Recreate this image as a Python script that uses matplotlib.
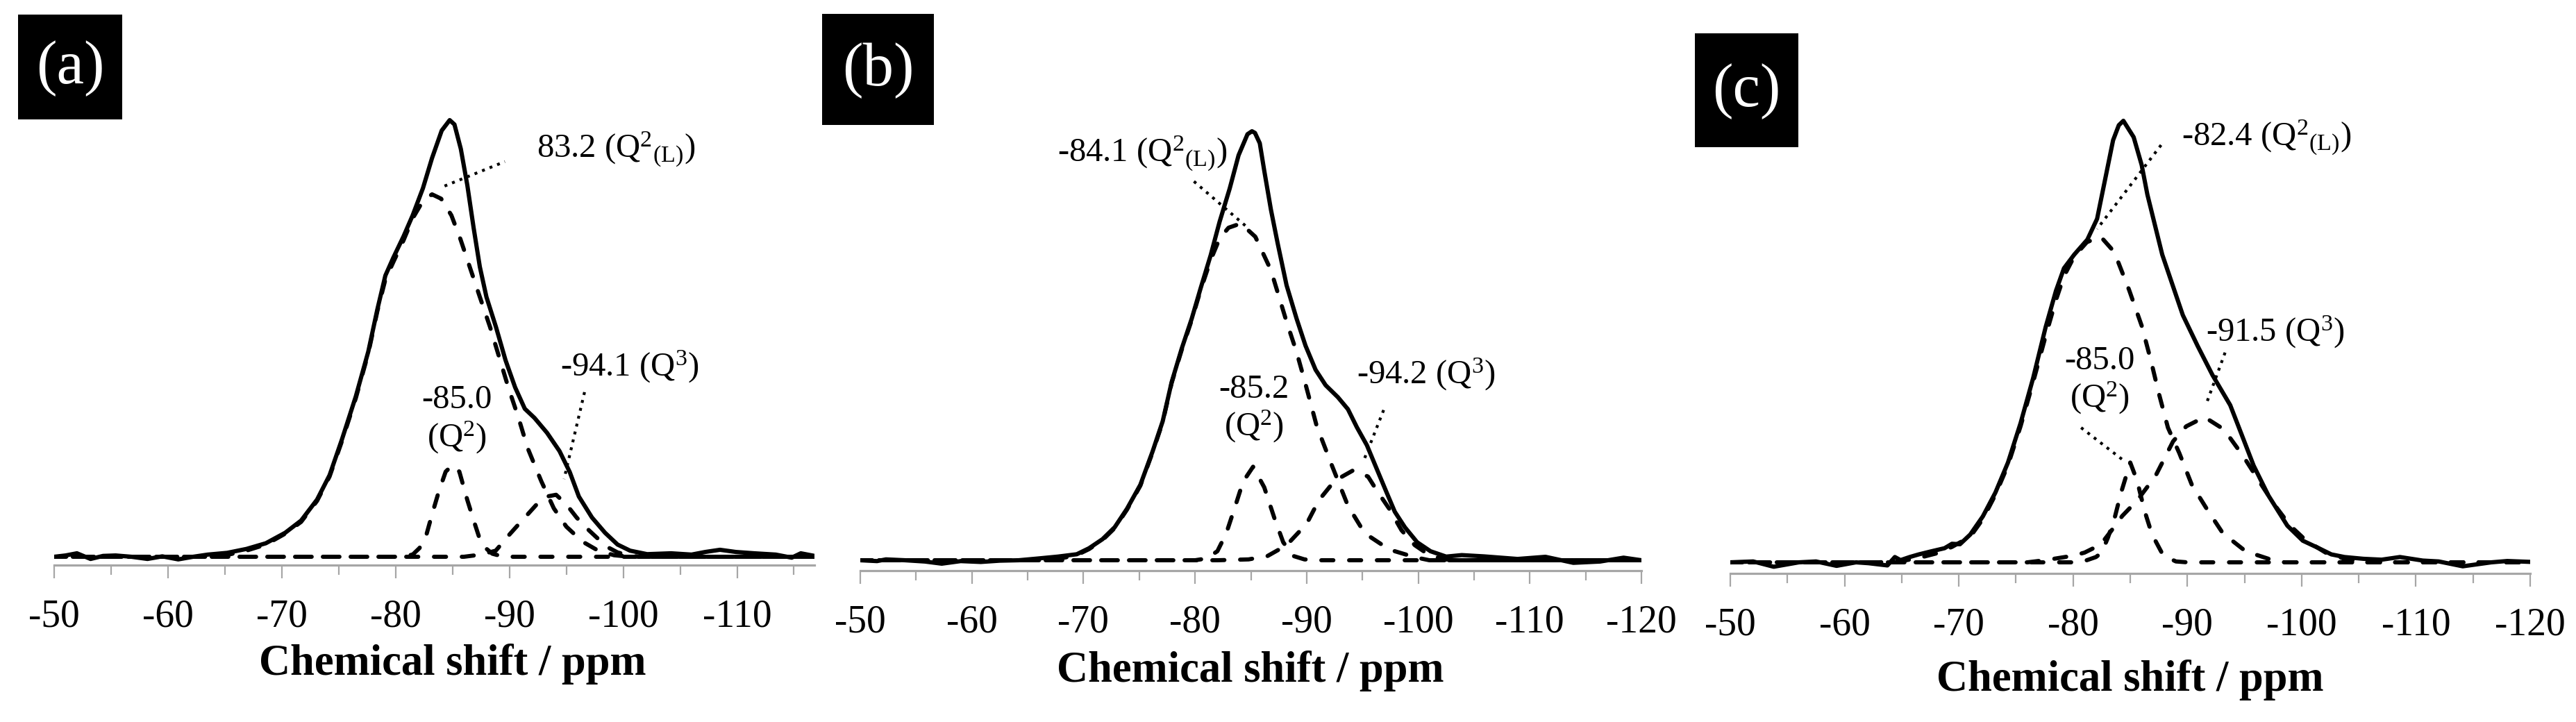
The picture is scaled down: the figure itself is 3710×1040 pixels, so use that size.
import matplotlib
matplotlib.use("Agg")
import matplotlib.pyplot as plt
from matplotlib.patches import Rectangle
from matplotlib.ticker import MultipleLocator

plt.rcParams['font.family'] = ['Liberation Serif', 'DejaVu Serif']
plt.rcParams['mathtext.fontset'] = 'custom'
plt.rcParams['mathtext.rm'] = 'Liberation Serif'
plt.rcParams['mathtext.it'] = 'Liberation Serif:italic'
plt.rcParams['mathtext.bf'] = 'Liberation Serif:bold'
plt.rcParams['axes.unicode_minus'] = False

# ---------------- data (ppm, intensity; main peak = 100) ----------------
# Panel (a)
a_exp_ppm = [-50.0, -51.0, -52.0, -53.2, -54.3, -55.4, -56.8, -58.2, -59.5, -60.9,
             -62.2, -63.5, -65.2, -66.9, -68.6, -70.3, -71.7, -73.1, -74.2, -75.3,
             -76.5, -77.6, -78.4, -79.1, -79.8, -80.7, -81.5, -82.4, -83.2, -84.05,
             -84.75, -85.17, -85.73, -86.3, -86.85, -87.4, -87.98, -88.82, -89.66, -90.5,
             -91.35, -92.2, -93.3, -94.4, -95.3, -96.1, -97.25, -98.4, -99.5, -100.6,
             -102.1, -104.2, -106.0, -107.2, -108.5, -109.9, -111.5, -113.4, -114.8, -115.6,
             -116.8]
a_exp_int = [0.0, 0.3, 0.8, -0.5, 0.2, 0.3, 0.0, -0.5, 0.1, -0.6,
             0.0, 0.5, 0.9, 1.8, 3.1, 5.5, 8.3, 13.1, 18.7, 27.0,
             36.7, 47.0, 56.7, 64.4, 68.5, 73.4, 78.2, 84.4, 91.3, 97.6,
             100.0, 99.0, 93.4, 85.1, 75.4, 66.4, 59.5, 52.6, 45.0, 38.8,
             33.9, 31.8, 28.4, 24.2, 19.4, 13.8, 9.0, 5.5, 2.8, 1.4,
             0.6, 0.8, 0.5, 1.1, 1.6, 1.1, 0.8, 0.5, -0.2, 0.8,
             0.2]
a_q2L_ppm = [-50.0, -64.0, -65.0, -67.0, -68.6, -70.3, -71.7, -73.1, -74.2, -75.3,
             -76.5, -77.6, -78.4, -79.1, -79.8, -80.7, -81.5, -82.4, -83.2, -84.0,
             -84.9, -85.7, -86.6, -87.4, -88.3, -89.1, -89.9, -90.8, -91.6, -92.8,
             -93.9, -95.0, -96.4, -97.8, -99.2, -100.6, -116.8]
a_q2L_int = [0.0, 0.0, 0.3, 1.5, 2.8, 5.3, 8.0, 12.8, 18.4, 26.6,
             36.3, 46.6, 56.3, 63.5, 67.5, 72.5, 77.5, 81.5, 83.0, 82.0,
             78.2, 72.7, 65.7, 59.5, 52.6, 45.7, 38.8, 31.8, 24.9, 17.3,
             11.1, 6.9, 3.5, 1.4, 0.35, 0.0, 0.0]
a_q2_ppm = [-50.0, -80.5, -81.5, -82.1, -82.7, -83.2, -83.8, -84.4, -85.0, -85.6,
            -86.3, -86.9, -87.4, -87.9, -88.5, -89.5, -116.8]
a_q2_int = [0.0, 0.0, 0.5, 2.0, 5.0, 9.7, 15.0, 19.5, 21.0, 19.5,
            13.0, 8.0, 4.0, 2.0, 0.7, 0.0, 0.0]
a_q3_ppm = [-50.0, -86.0, -87.5, -88.8, -89.9, -91.0, -91.6, -92.5, -93.3, -94.1,
            -95.0, -95.9, -96.6, -97.3, -98.0, -98.7, -99.5, -100.5, -101.5, -116.8]
a_q3_int = [0.0, 0.0, 0.5, 1.4, 4.8, 8.0, 9.7, 12.3, 13.8, 14.2,
            12.0, 9.0, 7.0, 5.3, 3.6, 2.1, 1.0, 0.3, 0.0, 0.0]

# Panel (b)
b_exp_ppm = [-50.0, -51.5, -52.3, -54.0, -55.8, -57.3, -59.0, -60.8, -62.5, -64.2,
             -65.9, -67.7, -69.4, -70.5, -71.7, -72.8, -73.9, -75.1, -76.2, -77.1,
             -77.9, -78.8, -79.7, -80.5, -81.4, -82.2, -83.1, -83.9, -84.7, -85.1,
             -85.37, -85.8, -86.2, -86.8, -87.4, -88.2, -89.1, -89.9, -90.8, -91.7,
             -92.8, -93.7, -94.5, -95.4, -96.2, -97.1, -97.9, -98.8, -99.9, -101.1,
             -102.5, -103.9, -105.9, -108.9, -111.4, -113.9, -116.3, -118.4, -120.0]
b_exp_int = [0.0, -0.2, 0.2, 0.0, -0.3, -0.8, -0.2, -0.4, -0.1, 0.0,
             0.4, 0.85, 1.4, 2.8, 4.9, 7.7, 12.0, 17.6, 25.4, 32.4,
             41.5, 49.3, 56.3, 63.4, 71.1, 78.9, 86.6, 94.4, 99.3, 100.0,
             99.6, 97.2, 90.8, 81.7, 73.9, 64.1, 56.3, 50.0, 44.4, 40.8,
             38.0, 35.2, 31.0, 26.8, 21.8, 16.2, 11.3, 7.7, 4.2, 2.1,
             0.85, 1.2, 0.9, 0.3, 0.8, -0.6, -0.3, 0.6, 0.0]
b_q2L_ppm = [-50.0, -66.0, -67.7, -69.4, -70.5, -71.7, -72.8, -73.9, -75.1, -76.2,
             -77.1, -77.9, -78.8, -79.7, -80.5, -81.4, -82.2, -83.0, -84.1, -85.4,
             -86.8, -88.2, -89.1, -89.8, -90.9, -92.2, -93.7, -95.2, -97.4, -99.7,
             -101.0, -120.0]
b_q2L_int = [0.0, 0.0, 0.3, 1.2, 2.6, 4.7, 7.5, 11.8, 17.4, 25.2,
             32.2, 41.3, 49.0, 56.0, 63.0, 70.0, 75.0, 77.5, 78.5, 75.4,
             67.6, 55.6, 48.5, 42.0, 31.3, 22.5, 12.7, 6.3, 2.5, 0.7,
             0.0, 0.0]
b_q2_ppm = [-50.0, -80.0, -81.0, -82.0, -82.8, -83.7, -84.3, -85.2, -86.2, -87.1,
            -87.9, -88.8, -89.8, -91.0, -120.0]
b_q2_int = [0.0, 0.0, 0.4, 2.1, 6.3, 13.4, 18.3, 21.8, 17.0, 9.9,
            4.2, 1.0, 0.2, 0.0, 0.0]
b_q3_ppm = [-50.0, -82.0, -84.8, -86.5, -88.2, -90.0, -91.1, -92.5, -94.2, -95.5,
            -96.3, -97.4, -98.5, -99.7, -101.1, -102.5, -104.0, -120.0]
b_q3_int = [0.0, 0.0, 0.2, 1.0, 3.5, 8.5, 14.0, 18.5, 21.0, 19.5,
            16.2, 12.0, 7.0, 3.5, 1.0, 0.2, 0.0, 0.0]

# Panel (c)
c_exp_ppm = [-50.0, -52.0, -53.8, -56.0, -57.5, -59.3, -61.0, -62.1, -63.75, -64.4,
             -64.9, -65.7, -66.5, -67.6, -68.75, -69.4, -70.1, -71.0, -72.1, -73.2,
             -74.3, -75.4, -76.5, -77.6, -78.5, -79.2, -80.1, -81.25, -82.1, -82.8,
             -83.5, -84.0, -84.4, -85.3, -86.0, -86.5, -87.8, -89.6, -90.9, -92.2,
             -93.75, -94.8, -95.8, -97.1, -98.75, -100.1, -101.5, -102.6, -103.75, -105.4,
             -107.0, -108.6, -110.6, -112.0, -114.1, -116.6, -118.0, -120.0]
c_exp_int = [0.0, 0.2, -1.0, 0.0, 0.2, -0.8, 0.0, -0.2, -0.7, 1.2,
             0.5, 1.2, 1.8, 2.5, 3.2, 4.2, 4.1, 6.3, 10.4, 15.8,
             22.6, 31.5, 41.7, 53.3, 61.5, 66.6, 69.7, 73.1, 77.8, 86.7,
             95.6, 99.0, 100.0, 96.3, 90.0, 83.3, 69.7, 56.0, 49.0, 42.4,
             35.6, 28.6, 21.9, 15.1, 8.3, 4.9, 3.2, 1.8, 1.2, 0.8,
             0.6, 1.2, 0.4, 0.2, -0.9, 0.0, 0.3, 0.1]
c_q2L_ppm = [-50.0, -63.0, -65.0, -66.5, -68.0, -69.4, -71.0, -72.1, -73.2, -74.3,
             -75.4, -76.5, -77.6, -78.5, -79.2, -80.1, -81.2, -82.4, -83.6, -84.9,
             -86.0, -86.8, -87.5, -88.3, -89.3, -90.4, -91.7, -93.1, -95.1, -97.1,
             -98.5, -120.0]
c_q2L_int = [0.0, 0.0, 0.3, 1.0, 2.0, 3.5, 5.8, 9.8, 15.3, 22.0,
             30.8, 40.8, 51.3, 59.4, 64.8, 69.3, 72.5, 73.8, 70.3, 61.7,
             53.6, 45.8, 38.3, 30.5, 24.7, 17.5, 12.1, 6.6, 2.5, 0.8,
             0.0, 0.0]
c_q2_ppm = [-50.0, -80.0, -81.0, -82.0, -82.5, -83.05, -83.6, -84.2, -85.0, -85.6,
            -86.25, -86.7, -87.2, -87.9, -89.0, -90.0, -120.0]
c_q2_int = [0.0, 0.0, 0.3, 1.2, 2.2, 5.6, 9.7, 15.8, 22.6, 18.5,
            11.7, 8.0, 4.9, 1.5, 0.2, 0.0, 0.0]
c_q3_ppm = [-50.0, -76.0, -77.6, -78.8, -80.0, -81.0, -82.4, -83.3, -84.3, -85.6,
            -87.2, -88.75, -89.9, -91.5, -93.2, -94.9, -96.25, -97.6, -99.0, -100.4,
            -102.1, -103.75, -105.5, -120.0]
c_q3_int = [0.0, 0.0, 0.5, 1.0, 1.5, 2.2, 4.0, 7.0, 10.5, 14.0,
            19.5, 27.4, 30.8, 32.9, 30.1, 24.0, 18.5, 13.1, 8.3, 4.9,
            2.2, 0.8, 0.0, 0.0]

# tick values / labels
ticks_a = [-50, -60, -70, -80, -90, -100, -110]
ticks_bc = [-50, -60, -70, -80, -90, -100, -110, -120]
tick_labels_a = ["-50", "-60", "-70", "-80", "-90", "-100", "-110"]
tick_labels_bc = ["-50", "-60", "-70", "-80", "-90", "-100", "-110", "-120"]

panel_letters = ["(a)", "(b)", "(c)"]
xlabel_text = "Chemical shift / ppm"

Q2L = "Q$^{2}{}_{\\mathrm{(L)}}$"
Q2 = "Q$^{2}$"
Q3 = "Q$^{3}$"
# annotation texts: (text, ppm, intensity, ha)
ann_a = [("83.2 (" + Q2L + ")", -92.4, 93.2, "left"),
         ("-85.0\n(" + Q2 + ")", -85.4, 31.3, "center"),
         ("-94.1 (" + Q3 + ")", -94.45, 43.6, "left")]
ann_b = [("-84.1 (" + Q2L + ")", -67.7, 94.8, "left"),
         ("-85.2\n(" + Q2 + ")", -85.3, 35.2, "center"),
         ("-94.2 (" + Q3 + ")", -94.5, 43.4, "left")]
ann_c = [("-82.4 (" + Q2L + ")", -89.5, 96.2, "left"),
         ("-85.0\n(" + Q2 + ")", -82.3, 41.1, "center"),
         ("-91.5 (" + Q3 + ")", -91.6, 52.2, "left")]
# dotted leader lines: ((ppm1, ppm2), (int1, int2))
lead_a = [((-84.3, -89.6), (84.9, 90.5)), ((-96.6, -94.8), (37.7, 17.8))]
lead_b = [((-79.9, -84.5), (88.3, 78.0)), ((-96.9, -95.2), (35.0, 23.8))]
lead_c = [((-87.7, -82.1), (94.5, 75.5)), ((-80.7, -84.3), (30.5, 23.3)),
          ((-93.3, -91.6), (47.5, 35.5))]

# ---------------- layout (pixels) ----------------
W, H = 3710, 1040
fig = plt.figure(figsize=(W / 100, H / 100), dpi=100)
fig.patch.set_facecolor("white")

GRAY = "#a6a6a6"
layouts = [
    dict(l=78, r=1173, yax=814, ybase=802, ypk=173, xmax=-116.8, lx=652, ly=972,
         box=(26, 21, 176, 172)),
    dict(l=1239, r=2364, yax=822, ybase=807, ypk=189, xmax=-120.0, lx=1801, ly=982,
         box=(1184, 20, 1345, 180)),
    dict(l=2492, r=3644, yax=826, ybase=810, ypk=174, xmax=-120.0, lx=3068, ly=995,
         box=(2441, 48, 2590, 212)),
]
panels = [
    (a_exp_ppm, a_exp_int, [(a_q2L_ppm, a_q2L_int), (a_q2_ppm, a_q2_int), (a_q3_ppm, a_q3_int)],
     ticks_a, tick_labels_a, ann_a, lead_a),
    (b_exp_ppm, b_exp_int, [(b_q2L_ppm, b_q2L_int), (b_q2_ppm, b_q2_int), (b_q3_ppm, b_q3_int)],
     ticks_bc, tick_labels_bc, ann_b, lead_b),
    (c_exp_ppm, c_exp_int, [(c_q2L_ppm, c_q2L_int), (c_q2_ppm, c_q2_int), (c_q3_ppm, c_q3_int)],
     ticks_bc, tick_labels_bc, ann_c, lead_c),
]
dash_offsets = [0.0, 1.1, 2.2]

ytop = 100
for i, (L, P) in enumerate(zip(layouts, panels)):
    exp_ppm, exp_int, comps, ticks, tlabels, anns, leads = P
    ax = fig.add_axes([L['l'] / W, 1 - L['yax'] / H, (L['r'] - L['l']) / W, (L['yax'] - ytop) / H])
    scale = (L['ybase'] - L['ypk']) / 100.0
    ax.set_ylim(-(L['yax'] - L['ybase']) / scale, (L['ybase'] - ytop) / scale)
    ax.set_xlim(-50, L['xmax'])

    for k, (cp, ci) in enumerate(comps):
        ax.plot(cp, ci, color="black", lw=4.3, linestyle=(dash_offsets[k], (2.9, 3.8)),
                dash_capstyle="round", solid_joinstyle="round")
    ax.plot(exp_ppm, exp_int, color="black", lw=4.4, solid_joinstyle="round",
            solid_capstyle="round")

    for (xs, ys) in leads:
        ax.plot(xs, ys, color="black", lw=3.0, linestyle=(0, (1, 1.8)))
    for (txt, x, y, ha) in anns:
        ax.text(x, y, txt, fontsize=35, ha=ha, va="center", multialignment="center",
                linespacing=1.15, color="black")

    for s in ("top", "left", "right"):
        ax.spines[s].set_visible(False)
    ax.spines["bottom"].set_color(GRAY)
    ax.spines["bottom"].set_linewidth(2.3)
    ax.set_xticks(ticks)
    ax.set_xticklabels(tlabels)
    ax.xaxis.set_minor_locator(MultipleLocator(5))
    ax.tick_params(axis="x", which="major", length=13.7, width=1.6, color=GRAY,
                   labelsize=40, pad=21, labelcolor="black")
    ax.tick_params(axis="x", which="minor", length=10, width=1.6, color=GRAY)
    ax.tick_params(axis="y", left=False, labelleft=False)
    ax.patch.set_alpha(0)

    fig.text(L['lx'] / W, 1 - L['ly'] / H, xlabel_text, fontsize=45, fontweight="bold",
             ha="center", va="baseline")

    x0, y0, x1, y1 = L['box']
    fig.add_artist(Rectangle((x0 / W, 1 - y1 / H), (x1 - x0) / W, (y1 - y0) / H,
                             transform=fig.transFigure, facecolor="black", edgecolor="none"))
    fig.text((x0 + x1) / 2 / W, 1 - ((y0 + y1) / 2 + 2) / H, panel_letters[i], color="white",
             fontsize=64, ha="center", va="center")

fig.savefig("out.png", dpi=100, facecolor="white")
